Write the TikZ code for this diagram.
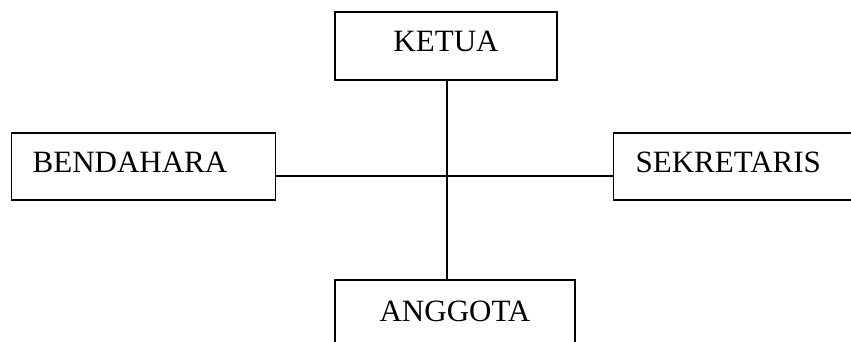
\documentclass[tikz,border=0pt]{standalone}
\usepackage{fontspec}
\setmainfont{Liberation Serif}
\usepackage{tikz}
\definecolor{garis}{HTML}{000000}
\tikzset{
  kotak/.style={draw=garis,line width=1.3pt,rectangle,inner ysep=0pt,
    font=\fontsize{31}{37}\selectfont},
  kotakkiri/.style={kotak,anchor=base west,inner xsep=21pt,align=left},
  kotaktengah/.style={kotak,anchor=base,inner xsep=0pt},
  hubung/.style={draw=garis,line width=1.2pt}
}

\begin{document}
\begin{tikzpicture}[x=1pt,y=1pt]
    \useasboundingbox (0,0) rectangle (851,342);
    \clip (0,0) rectangle (851,342);
    % kotak-kotak
    \node[kotaktengah,minimum width=222pt,text height=40pt,text depth=28pt] (ketua) at (446,290) {KETUA};
    \node[kotakkiri,text width=222pt,text height=40pt,text depth=27pt] (bendahara) at (11,169) {BENDAHARA};
    \node[kotakkiri,inner xsep=22pt,text width=206pt,text height=40pt,text depth=27pt] (sekretaris) at (613,169) {SEKRETARIS};
    \node[kotaktengah,minimum width=240pt,text height=42pt,text depth=40pt] (anggota) at (455,20) {ANGGOTA};
    % garis penghubung
    \coordinate (pusat) at (447,166);
    \draw[hubung] (ketua.south -| pusat) -- (anggota.north -| pusat);
    \draw[hubung] (bendahara.east |- pusat) -- (sekretaris.west |- pusat);
\end{tikzpicture}
\end{document}
